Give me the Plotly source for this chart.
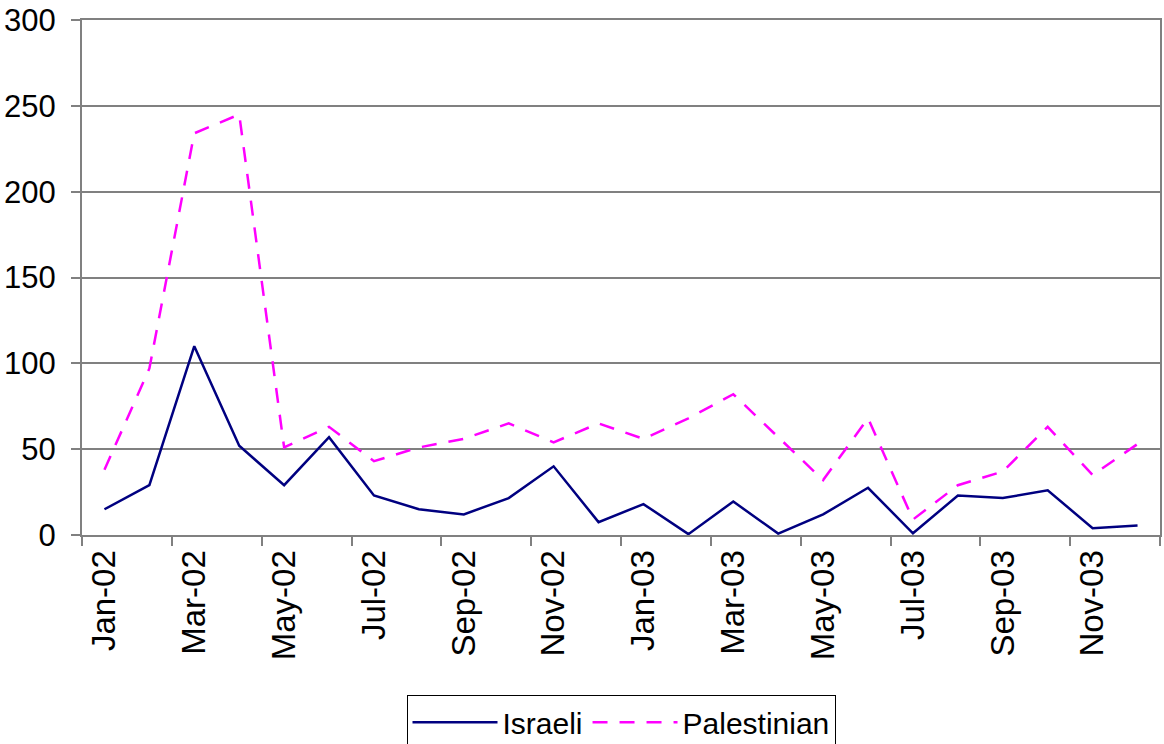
import plotly.graph_objects as go

months = ["Jan-02", "Feb-02", "Mar-02", "Apr-02", "May-02", "Jun-02", "Jul-02", "Aug-02",
          "Sep-02", "Oct-02", "Nov-02", "Dec-02", "Jan-03", "Feb-03", "Mar-03", "Apr-03",
          "May-03", "Jun-03", "Jul-03", "Aug-03", "Sep-03", "Oct-03", "Nov-03", "Dec-03"]
israeli = [15, 29, 110, 52, 29, 57, 23, 15, 12, 21.5, 40, 7.5,
           18, 0.5, 19.5, 0.8, 12, 27.5, 1, 23, 21.5, 26, 4, 5.5]
palestinian = [38, 97, 234, 245, 51, 63, 43, 51, 56, 65, 54, 65,
               56, 68, 82, 57, 32, 68, 9, 29, 37, 63, 35, 53]
y_ticks = [0, 50, 100, 150, 200, 250, 300]

FONT = "Liberation Sans, Arial, sans-serif"

fig = go.Figure()
fig.add_trace(go.Scatter(x=months, y=israeli, mode="lines", name="Israeli",
                         line=dict(color="#000080", width=2.5)))
fig.add_trace(go.Scatter(x=months, y=palestinian, mode="lines", name="Palestinian",
                         line=dict(color="#FF00FF", width=2.5, dash="15px,12px")))

fig.update_layout(
    width=1164, height=744,
    margin=dict(l=82, r=4, t=20, b=209, autoexpand=False),
    paper_bgcolor="white", plot_bgcolor="white",
    font=dict(family=FONT, size=30, color="black"),
    showlegend=True,
    legend=dict(orientation="h", x=0.5, xanchor="center", y=-0.311, yanchor="top",
                bordercolor="black", borderwidth=1, font=dict(size=30),
                itemwidth=85, tracegroupgap=0),
    xaxis=dict(type="category", tickmode="linear", tick0=0, dtick=2,
               tickson="boundaries", ticks="outside", ticklen=9, tickcolor="#808080",
               tickwidth=2, tickangle=-90, showgrid=False, automargin=False,
               showline=True, linecolor="#808080", linewidth=2, mirror=True,
               range=[-0.5, 23.5], tickfont=dict(size=33)),
    yaxis=dict(range=[0, 300], tickvals=y_ticks, ticks="outside", ticklen=9,
               tickcolor="#808080", tickwidth=2, showgrid=True, gridcolor="#808080",
               gridwidth=1.5, showline=True, linecolor="#808080", linewidth=2,
               mirror=True, zeroline=False, automargin=False,
               ticklabelstandoff=9, tickfont=dict(size=31)),
)

fig.write_html("out.html")
